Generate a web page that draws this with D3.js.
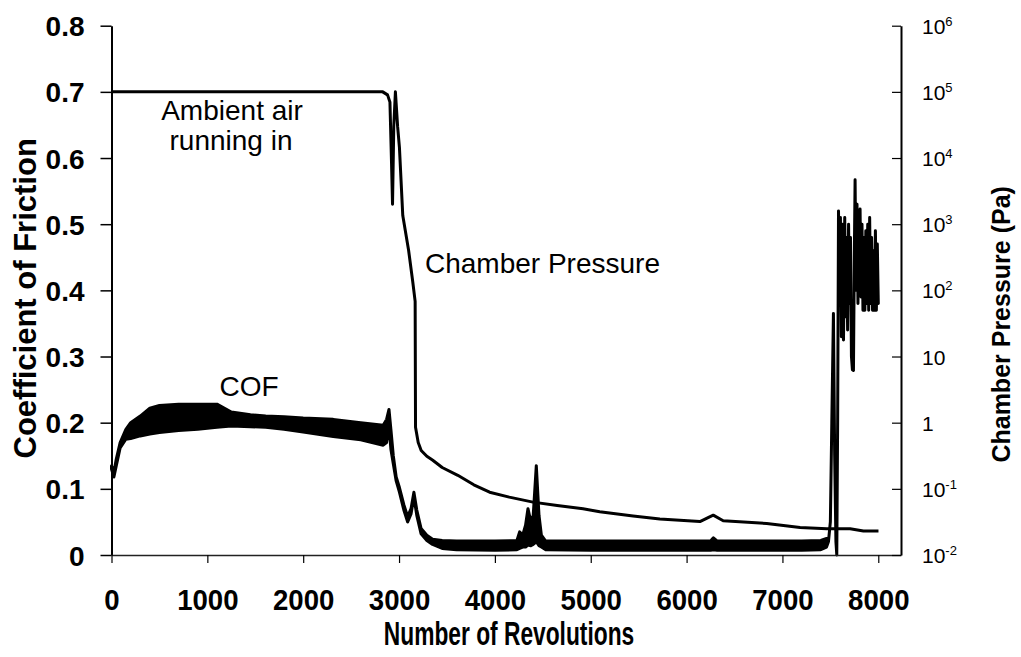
<!DOCTYPE html>
<html><head><meta charset="utf-8">
<script src="https://cdn.jsdelivr.net/npm/d3@7"></script>
<style>body{margin:0;background:#fff}svg{display:block}</style>
</head><body>
<svg id="chart" width="1021" height="657"></svg>
<script>
// ---------- data ----------
const xTicks = [0, 1000, 2000, 3000, 4000, 5000, 6000, 7000, 8000];
const cofTicks = [0, 0.1, 0.2, 0.3, 0.4, 0.5, 0.6, 0.7, 0.8];
const cofTickLabels = ["0", "0.1", "0.2", "0.3", "0.4", "0.5", "0.6", "0.7", "0.8"];
const pTicks = [1e-2, 1e-1, 1, 10, 1e2, 1e3, 1e4, 1e5, 1e6];
const pTickBase = ["10", "10", "1", "10", "10", "10", "10", "10", "10"];
const pTickExp = ["-2", "-1", "", "", "2", "3", "4", "5", "6"];

// COF: noisy band given by min / max envelope per revolution
const cofRev = [0, 25, 50, 90, 150, 200, 300, 400, 500, 700, 900, 1100, 1250, 1450, 1609, 1800, 2000, 2313, 2600, 2835, 2870, 2895, 2915, 2940, 2970, 3004, 3050, 3090, 3125, 3155, 3185, 3230, 3290, 3350, 3450, 3600, 4000, 4230, 4258, 4290, 4320, 4345, 4375, 4400, 4432, 4460, 4485, 4530, 5000, 5500, 6000, 6250, 6280, 6320, 6800, 7200, 7400, 7460,
  7480, 7500, 7515, 7532, 7545, 7558, 7567, 7576, 7585, 7595, 7605, 7615, 7625, 7637, 7650, 7660, 7670, 7680, 7690, 7700, 7710, 7720, 7730, 7741, 7750, 7758, 7768, 7778, 7788, 7798, 7810, 7820, 7830, 7840, 7850, 7860, 7870, 7880, 7890, 7900, 7910, 7920, 7930, 7940, 7950, 7960, 7970, 7980, 7990, 8000];
const cofMin = [0.13, 0.118, 0.135, 0.162, 0.175, 0.176, 0.18, 0.183, 0.185, 0.188, 0.19, 0.193, 0.195, 0.194, 0.193, 0.19, 0.186, 0.179, 0.174, 0.166, 0.17, 0.195, 0.16, 0.138, 0.112, 0.095, 0.068, 0.05, 0.062, 0.088, 0.06, 0.032, 0.022, 0.016, 0.01, 0.008, 0.007, 0.008, 0.01, 0.012, 0.012, 0.015, 0.014, 0.016, 0.02, 0.014, 0.012, 0.008, 0.007, 0.007, 0.007, 0.007, 0.008, 0.007, 0.007, 0.007, 0.008, 0.012,
  0.02, 0.05, 0.2, 0.365, 0.15, 0.02, 0.0, 0.2, 0.52, 0.40, 0.51, 0.33, 0.50, 0.325, 0.51, 0.36, 0.48, 0.34, 0.50, 0.38, 0.48, 0.30, 0.28, 0.279, 0.45, 0.567, 0.40, 0.53, 0.38, 0.51, 0.523, 0.39, 0.50, 0.37, 0.48, 0.37, 0.49, 0.38, 0.50, 0.37, 0.51, 0.38, 0.48, 0.37, 0.46, 0.37, 0.49, 0.37, 0.47, 0.38];
const cofMax = [0.135, 0.125, 0.145, 0.17, 0.19, 0.2, 0.21, 0.222, 0.226, 0.228, 0.228, 0.228, 0.216, 0.212, 0.21, 0.209, 0.207, 0.205, 0.2, 0.196, 0.205, 0.22, 0.19, 0.15, 0.118, 0.102, 0.076, 0.058, 0.07, 0.095, 0.068, 0.04, 0.03, 0.024, 0.022, 0.021, 0.021, 0.022, 0.035, 0.03, 0.045, 0.07, 0.05, 0.06, 0.135, 0.06, 0.03, 0.021, 0.021, 0.021, 0.021, 0.021, 0.026, 0.021, 0.021, 0.021, 0.022, 0.025,
  0.02, 0.05, 0.2, 0.365, 0.15, 0.02, 0.0, 0.2, 0.52, 0.40, 0.51, 0.33, 0.50, 0.325, 0.51, 0.36, 0.48, 0.34, 0.50, 0.38, 0.48, 0.30, 0.28, 0.279, 0.45, 0.567, 0.40, 0.53, 0.38, 0.51, 0.523, 0.39, 0.50, 0.37, 0.48, 0.37, 0.49, 0.38, 0.50, 0.37, 0.51, 0.38, 0.48, 0.37, 0.46, 0.37, 0.49, 0.37, 0.47, 0.38];

// Chamber pressure (Pa)
const presRev = [0, 2830, 2880, 2905, 2922, 2932, 2945, 2962, 2985, 3004, 3039, 3100, 3143, 3168, 3172, 3200, 3231, 3290, 3352, 3450, 3613, 3780, 3945, 4150, 4397, 4650, 4920, 5094, 5442, 5721, 6139, 6278, 6382, 6836, 7184, 7463, 7706, 7845, 8002];
const presPa = [1e5, 1e5, 9e4, 7e4, 8000, 2000, 3e4, 1e5, 3e4, 14500, 1350, 400, 135, 68, 0.85, 0.5, 0.38, 0.31, 0.27, 0.21, 0.16, 0.115, 0.089, 0.075, 0.063, 0.056, 0.05, 0.045, 0.039, 0.035, 0.032, 0.04, 0.033, 0.03, 0.026, 0.025, 0.025, 0.023, 0.023];

// ---------- layout ----------
const L = 111.5, R = 901, T = 25.7, B = 555;
const X_MAX = 8237;
const FONT = "'Liberation Sans', Arial, sans-serif";

const svg = d3.select("#chart");
const x = d3.scaleLinear().domain([0, X_MAX]).range([L, R]);
const yC = d3.scaleLinear().domain([0, 0.8]).range([B, T]);
const yP = d3.scaleLog().domain([1e-2, 1e6]).range([B, T]);

// Pressure line
const pData = presRev.map((r, i) => [r, presPa[i]]);
svg.append("path")
  .attr("d", d3.line().x(d => x(d[0])).y(d => yP(d[1]))(pData))
  .attr("fill", "none").attr("stroke", "#000").attr("stroke-width", 3)
  .attr("stroke-linejoin", "round");

// COF band
const cData = cofRev.map((r, i) => ({ r, lo: cofMin[i], hi: cofMax[i] }));
svg.append("path")
  .attr("d", d3.area().x(d => x(d.r)).y0(d => yC(d.lo)).y1(d => yC(d.hi))(cData))
  .attr("fill", "#000").attr("stroke", "#000").attr("stroke-width", 3)
  .attr("stroke-linejoin", "round");

// Left axis
const gL = svg.append("g").attr("transform", `translate(${L},0)`)
  .call(d3.axisLeft(yC).tickValues(cofTicks).tickFormat((d, i) => cofTickLabels[i])
    .tickSize(11).tickSizeOuter(0).tickPadding(16));
gL.select(".domain").attr("stroke", "#000").attr("stroke-width", 2);
gL.selectAll(".tick line").attr("stroke", "#000").attr("stroke-width", 1.5);
gL.selectAll(".tick text").attr("font-family", FONT).attr("font-weight", "bold")
  .attr("font-size", 28).attr("fill", "#000").attr("dy", "0.36em");

// Bottom axis
const gB = svg.append("g").attr("transform", `translate(0,${B})`)
  .call(d3.axisBottom(x).tickValues(xTicks).tickFormat(d3.format("d"))
    .tickSize(8).tickSizeOuter(0));
gB.select(".domain").attr("stroke", "#222").attr("stroke-width", 1.5);
gB.selectAll(".tick line").attr("stroke", "#000").attr("stroke-width", 1.2);
gB.selectAll(".tick text").attr("font-family", FONT).attr("font-weight", "bold")
  .attr("font-size", 30).attr("fill", "#000").attr("y", 55).attr("dy", 0)
  .attr("transform", "scale(0.92,1)");

// Right axis
const gR = svg.append("g").attr("transform", `translate(${R},0)`)
  .call(d3.axisRight(yP).tickValues(pTicks).tickFormat("").tickSize(-9).tickSizeOuter(0));
gR.select(".domain").attr("stroke", "#000").attr("stroke-width", 2);
gR.selectAll(".tick line").attr("stroke", "#000").attr("stroke-width", 1.2);
gR.selectAll(".tick").each(function (d, i) {
  const t = d3.select(this).append("text")
    .attr("x", 21).attr("y", 7.5).attr("font-family", FONT)
    .attr("font-size", 21).attr("fill", "#000").attr("text-anchor", "start");
  t.append("tspan").text(pTickBase[i]);
  if (pTickExp[i]) t.append("tspan").attr("font-size", 13).attr("dy", -8).text(pTickExp[i]);
});

// Axis titles
svg.append("text").attr("transform", `translate(25,${(T + B) / 2 + 8}) rotate(-90)`)
  .attr("text-anchor", "middle").attr("dy", "0.36em")
  .attr("font-family", FONT).attr("font-weight", "bold").attr("font-size", 31)
  .text("Coefficient of Friction");
svg.append("text").attr("transform", `translate(1001,${(T + B) / 2 + 34}) rotate(-90)`)
  .attr("text-anchor", "middle").attr("dy", "0.36em")
  .attr("font-family", FONT).attr("font-weight", "bold").attr("font-size", 25)
  .text("Chamber Pressure (Pa)");
svg.append("text").attr("transform", `translate(509,645) scale(0.69,1)`)
  .attr("text-anchor", "middle")
  .attr("font-family", FONT).attr("font-weight", "bold").attr("font-size", 33)
  .text("Number of Revolutions");

// Annotations
const ann = [
  { t: "Ambient air", x: 232, y: 120, a: "middle" },
  { t: "running in", x: 231, y: 150, a: "middle" },
  { t: "Chamber Pressure", x: 425, y: 273, a: "start" },
  { t: "COF", x: 249, y: 396, a: "middle" }
];
svg.selectAll("text.ann").data(ann).enter().append("text").attr("class", "ann")
  .attr("x", d => d.x).attr("y", d => d.y).attr("text-anchor", d => d.a)
  .attr("font-family", FONT).attr("font-size", 28).attr("fill", "#000")
  .text(d => d.t);
</script>
</body></html>
